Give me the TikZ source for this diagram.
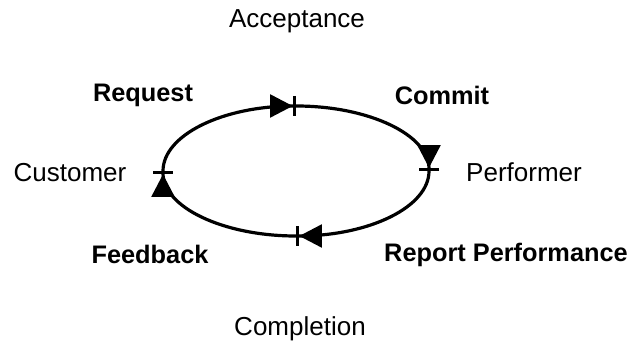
\documentclass[tikz,border=0pt]{standalone}
\usepackage{fontspec}
\setmainfont{Liberation Sans}
\usepackage{tikz}
\usetikzlibrary{arrows.meta, positioning}
\tikzset{
		role/.style={
			inner sep=0pt,
			anchor=base,
			font=\fontsize{19.5}{23}\selectfont
		},
		act/.style={
			role,
			font=\fontsize{19}{23}\selectfont\bfseries
		},
		loop arc/.style={
			line width=2.4pt,
			-{Triangle[length=17pt,width=17pt]Bar[width=15pt]}
		}
	}

\begin{document}
\begin{tikzpicture}[x=0.75pt, y=0.75pt]
			\useasboundingbox (0,0) rectangle (630,345);
			% the four hand-over points on the loop
			\coordinate (q-left) at (163,174);
			\coordinate (q-top) at (296,239);
			\coordinate (q-right) at (429,174);
			\coordinate (q-bottom) at (296,109);
			\draw [loop arc] (q-left) arc [start angle=180, end angle=90, x radius=99.75pt, y radius=48.75pt];
			\draw [loop arc] (q-top) arc [start angle=90, end angle=0, x radius=99.75pt, y radius=48.75pt];
			\draw [loop arc] (q-right) arc [start angle=0, end angle=-90, x radius=99.75pt, y radius=48.75pt];
			\draw [loop arc] (q-bottom) arc [start angle=-90, end angle=-180, x radius=99.75pt, y radius=48.75pt];
			% phases and roles
			\node [role] (acceptance) at (297,317) {Acceptance};
			\node [role] (completion) at (300,9) {Completion};
			\node [role] (customer) at (70,163) {Customer};
			\node [role] (performer) at (524,163) {Performer};
			% acts
			\node [act] (request) at (143,243) {Request};
			\node [act] (commit) at (442,240) {Commit};
			\node [act] (feedback) at (150,81) {Feedback};
			\node [act] (report) at (506,83) {Report Performance};
		\end{tikzpicture}
\end{document}
